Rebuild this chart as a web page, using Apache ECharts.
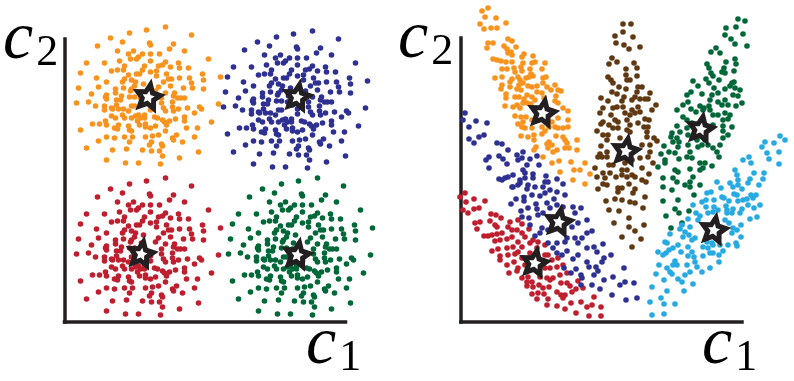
<!DOCTYPE html>
<html>
<head>
<meta charset="utf-8">
<style>
	html, body { margin: 0; padding: 0; background: #fff; }
	#main { width: 794px; height: 381px; }
</style>
<script src="https://cdn.jsdelivr.net/npm/echarts@6/dist/echarts.min.js"></script>
</head>
<body>
<div id="main"></div>
<script>
// values, axis units on both panels
const leftOrange = [[101,295],[82,292],[65,289],[127,287],[46,284],[58,280],[85,279],[86,277],[109,278],[105,273],[33,276],[120,271],[53,271],[69,271],[64,268],[78,268],[95,268],[86,268],[74,265],[72,263],[66,263],[86,261],[144,263],[22,259],[40,259],[55,261],[114,259],[115,254],[101,260],[98,257],[94,256],[106,255],[124,254],[80,256],[78,252],[60,256],[59,252],[53,252],[47,251],[92,251],[86,250],[138,248],[16,249],[102,248],[156,245],[64,247],[72,248],[75,248],[32,244],[92,246],[125,244],[139,242],[60,243],[58,240],[67,242],[71,240],[79,238],[42,240],[115,244],[107,243],[104,243],[99,240],[127,239],[128,234],[34,235],[14,234],[139,233],[119,234],[106,236],[51,233],[59,234],[70,236],[67,233],[66,231],[94,235],[91,231],[51,229],[27,228],[42,227],[41,225],[42,223],[57,226],[65,225],[70,225],[77,230],[76,224],[101,229],[110,229],[109,226],[113,224],[116,224],[120,224],[97,224],[12,219],[24,220],[52,222],[56,222],[31,216],[40,216],[47,214],[52,217],[40,212],[48,213],[54,213],[59,213],[67,216],[70,216],[64,211],[81,221],[86,217],[97,219],[99,214],[108,220],[108,215],[114,213],[123,214],[135,215],[137,213],[154,218],[109,211],[101,211],[86,212],[74,207],[80,207],[71,206],[67,204],[58,207],[60,204],[47,206],[51,204],[41,201],[42,197],[28,198],[35,198],[54,197],[50,194],[53,193],[64,196],[65,192],[67,191],[73,201],[76,204],[80,204],[75,197],[81,198],[81,195],[86,194],[91,196],[90,205],[93,204],[98,202],[100,200],[105,201],[102,197],[111,203],[120,205],[120,201],[130,209],[147,200],[122,194],[133,194],[101,191],[16,192],[42,185],[50,184],[60,185],[68,185],[65,180],[81,185],[88,186],[94,187],[108,184],[112,187],[109,182],[130,185],[118,180],[34,181],[87,180],[85,177],[97,178],[98,176],[22,174],[48,172],[62,173],[78,172],[87,171],[95,171],[98,166],[134,170],[115,164],[42,162],[61,159],[74,159],[96,158]];
const leftNavy = [[248,291],[229,288],[212,285],[274,283],[193,280],[205,276],[232,275],[233,273],[256,274],[252,269],[180,272],[267,267],[200,267],[216,267],[211,264],[225,264],[242,264],[233,264],[221,261],[219,259],[213,259],[233,257],[291,259],[169,255],[187,255],[202,257],[261,255],[262,250],[248,256],[245,253],[241,252],[253,251],[271,250],[227,252],[225,248],[207,252],[206,248],[200,248],[194,247],[239,247],[233,246],[285,244],[163,245],[249,244],[303,241],[211,243],[219,244],[222,244],[179,240],[239,242],[272,240],[286,238],[207,239],[205,236],[214,238],[218,236],[226,234],[189,236],[262,240],[254,239],[251,239],[246,236],[274,235],[275,230],[181,231],[161,230],[286,229],[266,230],[253,232],[198,229],[206,230],[217,232],[214,229],[213,227],[241,231],[238,227],[198,225],[174,224],[189,223],[188,221],[189,219],[204,222],[212,221],[217,221],[224,226],[223,220],[248,225],[257,225],[256,222],[260,220],[263,220],[267,220],[244,220],[159,215],[171,216],[199,218],[203,218],[178,212],[187,212],[194,210],[199,213],[187,208],[195,209],[201,209],[206,209],[214,212],[217,212],[211,207],[228,217],[233,213],[244,215],[246,210],[255,216],[255,211],[261,209],[270,210],[282,211],[284,209],[301,214],[256,207],[248,207],[233,208],[221,203],[227,203],[218,202],[214,200],[205,203],[207,200],[194,202],[198,200],[188,197],[189,193],[175,194],[182,194],[201,193],[197,190],[200,189],[211,192],[212,188],[214,187],[220,197],[223,200],[227,200],[222,193],[228,194],[228,191],[233,190],[238,192],[237,201],[240,200],[245,198],[247,196],[252,197],[249,193],[258,199],[267,201],[267,197],[277,205],[294,196],[269,190],[280,190],[248,187],[163,188],[189,181],[197,180],[207,181],[215,181],[212,176],[228,181],[235,182],[241,183],[255,180],[259,183],[256,178],[277,181],[265,176],[181,177],[234,176],[232,173],[244,174],[245,172],[169,170],[195,168],[209,169],[225,168],[234,167],[242,167],[245,162],[281,166],[262,160],[189,158],[208,155],[221,155],[243,154]];
const leftRed = [[101,144],[82,141],[65,138],[127,136],[46,133],[58,129],[85,128],[86,126],[109,127],[105,122],[33,125],[120,120],[53,120],[69,120],[64,117],[78,117],[95,117],[86,117],[74,114],[72,112],[66,112],[86,110],[144,112],[22,108],[40,108],[55,110],[114,108],[115,103],[101,109],[98,106],[94,105],[106,104],[124,103],[80,105],[78,101],[60,105],[59,101],[53,101],[47,100],[92,100],[86,99],[138,97],[16,98],[102,97],[156,94],[64,96],[72,97],[75,97],[32,93],[92,95],[125,93],[139,91],[60,92],[58,89],[67,91],[71,89],[79,87],[42,89],[115,93],[107,92],[104,92],[99,89],[127,88],[128,83],[34,84],[14,83],[139,82],[119,83],[106,85],[51,82],[59,83],[70,85],[67,82],[66,80],[94,84],[91,80],[51,78],[27,77],[42,76],[41,74],[42,72],[57,75],[65,74],[70,74],[77,79],[76,73],[101,78],[110,78],[109,75],[113,73],[116,73],[120,73],[97,73],[12,68],[24,69],[52,71],[56,71],[31,65],[40,65],[47,63],[52,66],[40,61],[48,62],[54,62],[59,62],[67,65],[70,65],[64,60],[81,70],[86,66],[97,68],[99,63],[108,69],[108,64],[114,62],[123,63],[135,64],[137,62],[154,67],[109,60],[101,60],[86,61],[74,56],[80,56],[71,55],[67,53],[58,56],[60,53],[47,55],[51,53],[41,50],[42,46],[28,47],[35,47],[54,46],[50,43],[53,42],[64,45],[65,41],[67,40],[73,50],[76,53],[80,53],[75,46],[81,47],[81,44],[86,43],[91,45],[90,54],[93,53],[98,51],[100,49],[105,50],[102,46],[111,52],[120,54],[120,50],[130,58],[147,49],[122,43],[133,43],[101,40],[16,41],[42,34],[50,33],[60,34],[68,34],[65,29],[81,34],[88,35],[94,36],[108,33],[112,36],[109,31],[130,34],[118,29],[34,30],[87,29],[85,26],[97,27],[98,25],[22,23],[48,21],[62,22],[78,21],[87,20],[95,20],[98,15],[134,19],[115,13],[42,11],[61,8],[74,8],[96,7]];
const leftGreen = [[253,144],[234,141],[217,138],[279,136],[198,133],[210,129],[237,128],[238,126],[261,127],[257,122],[185,125],[272,120],[205,120],[221,120],[216,117],[230,117],[247,117],[238,117],[226,114],[224,112],[218,112],[238,110],[296,112],[174,108],[192,108],[207,110],[266,108],[267,103],[253,109],[250,106],[246,105],[258,104],[276,103],[232,105],[230,101],[212,105],[211,101],[205,101],[199,100],[244,100],[238,99],[290,97],[168,98],[254,97],[308,94],[216,96],[224,97],[227,97],[184,93],[244,95],[277,93],[291,91],[212,92],[210,89],[219,91],[223,89],[231,87],[194,89],[267,93],[259,92],[256,92],[251,89],[279,88],[280,83],[186,84],[166,83],[291,82],[271,83],[258,85],[203,82],[211,83],[222,85],[219,82],[218,80],[246,84],[243,80],[203,78],[179,77],[194,76],[193,74],[194,72],[209,75],[217,74],[222,74],[229,79],[228,73],[253,78],[262,78],[261,75],[265,73],[268,73],[272,73],[249,73],[164,68],[176,69],[204,71],[208,71],[183,65],[192,65],[199,63],[204,66],[192,61],[200,62],[206,62],[211,62],[219,65],[222,65],[216,60],[233,70],[238,66],[249,68],[251,63],[260,69],[260,64],[266,62],[275,63],[287,64],[289,62],[306,67],[261,60],[253,60],[238,61],[226,56],[232,56],[223,55],[219,53],[210,56],[212,53],[199,55],[203,53],[193,50],[194,46],[180,47],[187,47],[206,46],[202,43],[205,42],[216,45],[217,41],[219,40],[225,50],[228,53],[232,53],[227,46],[233,47],[233,44],[238,43],[243,45],[242,54],[245,53],[250,51],[252,49],[257,50],[254,46],[263,52],[272,54],[272,50],[282,58],[299,49],[274,43],[285,43],[253,40],[168,41],[194,34],[202,33],[212,34],[220,34],[217,29],[233,34],[240,35],[246,36],[260,33],[264,36],[261,31],[282,34],[270,29],[186,30],[239,29],[237,26],[249,27],[250,25],[174,23],[200,21],[214,22],[230,21],[239,20],[247,20],[250,15],[286,19],[267,13],[194,11],[213,8],[226,8],[248,7]];
const leftCenters = [[84,226],[233,226],[77,69],[233,68]];

const rightOrange = [[27,314],[21,311],[24,305],[35,304],[19,298],[45,299],[23,293],[30,294],[36,294],[27,279],[32,279],[26,274],[47,283],[51,281],[43,276],[46,273],[55,275],[50,270],[47,269],[51,267],[32,263],[36,262],[40,261],[45,260],[51,260],[63,268],[61,265],[72,266],[74,260],[62,259],[60,255],[71,259],[84,259],[41,253],[46,253],[53,254],[54,250],[61,251],[69,253],[70,248],[81,253],[34,244],[41,245],[51,243],[49,240],[57,245],[59,242],[65,244],[68,245],[72,246],[82,244],[85,245],[41,237],[40,233],[49,235],[58,237],[62,239],[67,236],[71,235],[76,236],[82,239],[86,235],[94,237],[45,228],[45,224],[54,225],[56,233],[60,232],[66,227],[58,225],[63,223],[71,225],[76,230],[81,229],[90,232],[97,232],[100,231],[95,226],[44,216],[52,215],[56,217],[59,214],[62,219],[66,219],[70,218],[74,222],[83,224],[94,221],[97,219],[102,214],[107,211],[54,206],[60,205],[65,205],[62,200],[57,198],[61,195],[71,202],[64,194],[71,194],[89,207],[97,204],[91,200],[107,202],[107,195],[102,194],[81,195],[84,191],[88,195],[94,195],[97,194],[60,186],[67,185],[73,187],[81,188],[73,182],[75,175],[73,172],[95,186],[102,185],[104,182],[88,180],[91,177],[86,178],[106,179],[87,174],[92,170],[96,172],[104,174],[108,174],[116,182],[116,172],[82,165],[91,159],[98,161],[110,160],[124,159],[99,150],[113,152],[119,152],[129,148],[112,142],[124,138]];
const rightBrown = [[162,298],[170,298],[162,290],[154,286],[172,285],[155,279],[163,277],[168,273],[179,275],[151,264],[156,260],[148,258],[173,259],[176,254],[165,253],[165,247],[176,246],[166,242],[169,242],[147,245],[150,242],[152,239],[158,235],[165,233],[151,230],[156,228],[177,235],[181,235],[176,230],[189,229],[140,224],[147,221],[163,225],[161,221],[174,225],[171,222],[179,223],[184,223],[187,223],[195,217],[191,212],[142,214],[139,209],[152,214],[156,215],[162,215],[171,212],[169,207],[177,215],[179,210],[174,209],[150,207],[142,200],[140,198],[136,191],[154,202],[157,200],[164,209],[166,202],[169,197],[177,199],[184,203],[188,202],[148,197],[152,194],[157,194],[166,192],[183,195],[186,190],[187,195],[142,187],[147,187],[146,182],[159,184],[169,190],[186,185],[193,184],[196,181],[140,176],[189,177],[181,177],[146,170],[139,168],[137,165],[141,165],[146,165],[148,157],[152,157],[189,170],[187,165],[192,159],[179,164],[171,162],[164,159],[134,154],[142,149],[136,145],[149,149],[155,145],[161,152],[166,152],[161,147],[166,145],[171,147],[181,154],[174,145],[181,142],[185,140],[188,148],[144,144],[142,138],[168,138],[137,133],[157,134],[161,134],[174,133],[146,137],[157,130],[172,129],[184,125],[145,121],[154,123],[161,122],[169,120],[174,119],[182,114],[148,112],[158,111],[168,104],[153,99],[183,97],[168,95],[174,91],[161,85],[180,83],[171,75]];
const rightGreen = [[277,303],[284,301],[265,294],[275,295],[282,288],[264,287],[270,283],[274,278],[286,276],[255,274],[259,269],[250,270],[274,263],[275,258],[265,260],[246,258],[248,254],[263,254],[273,251],[250,249],[261,250],[264,249],[252,246],[245,243],[248,239],[258,242],[232,241],[271,239],[273,240],[237,236],[253,234],[269,236],[279,232],[230,230],[226,227],[241,228],[251,227],[257,229],[264,233],[274,234],[272,227],[277,226],[249,222],[257,220],[264,222],[267,217],[222,217],[227,220],[239,216],[243,214],[248,216],[261,217],[281,219],[275,216],[216,212],[230,213],[235,210],[249,212],[252,207],[257,207],[264,209],[269,207],[222,205],[226,202],[231,199],[262,202],[216,196],[242,212],[267,203],[262,196],[271,195],[211,189],[219,190],[226,194],[252,197],[210,185],[216,184],[227,187],[262,191],[267,187],[262,184],[212,180],[218,180],[236,182],[244,182],[203,176],[217,175],[227,177],[241,177],[247,177],[259,177],[208,170],[200,168],[214,169],[229,170],[237,175],[252,174],[256,170],[258,165],[204,162],[218,163],[226,165],[231,164],[239,159],[244,159],[251,156],[197,155],[204,159],[214,152],[217,150],[229,153],[239,152],[242,154],[212,144],[202,144],[216,140],[232,145],[229,140],[202,135],[224,137],[239,137],[211,132],[229,135],[202,121],[217,122],[214,113],[218,109],[228,111],[205,106],[221,99],[210,94],[233,127]];
const rightBlue = [[319,186],[324,182],[304,180],[313,179],[301,175],[318,170],[306,169],[308,163],[318,158],[282,162],[288,165],[290,159],[274,152],[293,149],[303,149],[276,147],[277,142],[302,143],[289,143],[287,139],[269,139],[298,137],[256,140],[272,135],[260,134],[277,137],[281,133],[250,130],[246,129],[273,128],[276,127],[261,125],[263,124],[253,122],[245,122],[241,120],[290,127],[295,127],[292,124],[286,123],[282,122],[277,121],[268,121],[232,117],[245,115],[253,115],[257,112],[265,116],[266,112],[272,113],[281,113],[287,117],[293,114],[299,117],[252,110],[247,109],[235,109],[239,106],[266,109],[271,109],[279,109],[227,103],[289,103],[296,105],[237,102],[264,102],[268,99],[280,97],[221,97],[229,95],[272,94],[276,92],[219,93],[209,88],[224,90],[222,85],[228,87],[271,89],[280,85],[231,82],[234,84],[204,80],[206,79],[217,77],[212,74],[246,80],[251,79],[242,75],[247,74],[252,77],[227,75],[275,79],[267,77],[276,76],[259,77],[262,71],[197,70],[205,69],[202,67],[208,72],[220,70],[231,70],[227,66],[233,65],[242,66],[249,69],[258,67],[252,69],[258,60],[214,61],[216,57],[212,57],[198,57],[226,57],[234,60],[236,55],[249,54],[241,50],[206,54],[209,50],[211,48],[229,50],[224,47],[195,48],[217,43],[221,40],[203,42],[232,38],[191,35],[206,31],[223,31],[189,20],[200,24],[203,18],[214,18],[191,7],[203,8]];
const rightRed = [[4,129],[-1,125],[5,120],[13,123],[24,121],[2,112],[7,109],[13,113],[18,114],[30,108],[35,107],[40,104],[14,99],[19,100],[16,93],[29,101],[34,97],[36,95],[49,100],[57,102],[47,95],[61,98],[68,93],[41,89],[23,86],[27,86],[31,87],[36,88],[51,92],[56,92],[61,89],[34,81],[39,82],[46,83],[51,85],[57,80],[64,85],[72,82],[77,80],[84,77],[31,71],[37,73],[46,74],[52,75],[61,75],[69,79],[76,74],[87,67],[39,66],[47,67],[54,68],[57,70],[69,69],[39,62],[53,60],[61,64],[84,67],[91,62],[97,64],[46,57],[57,54],[64,57],[48,49],[56,51],[84,54],[89,54],[96,55],[102,57],[61,44],[67,45],[79,45],[86,44],[92,44],[99,47],[106,49],[66,40],[71,40],[89,42],[117,41],[66,36],[72,35],[78,37],[100,39],[106,39],[88,35],[109,36],[82,34],[96,30],[104,27],[115,33],[122,34],[111,30],[71,28],[77,29],[83,28],[100,27],[76,23],[87,23],[102,24],[133,25],[86,17],[120,20],[96,16],[110,19],[104,13],[126,15],[131,17],[140,15],[115,9],[128,6],[140,6]];
const rightNavy = [[4,209],[2,202],[15,201],[26,199],[8,195],[23,187],[18,185],[8,183],[13,179],[36,179],[41,178],[47,172],[28,165],[25,162],[38,166],[42,163],[46,158],[28,154],[56,167],[62,170],[76,166],[69,163],[57,162],[61,164],[78,157],[66,157],[62,152],[64,149],[72,148],[38,143],[44,144],[52,147],[47,145],[59,142],[64,144],[72,144],[85,146],[96,143],[84,140],[102,138],[51,135],[57,137],[74,135],[82,135],[87,140],[41,142],[52,135],[59,139],[67,137],[66,133],[71,127],[79,126],[84,129],[89,132],[96,130],[104,127],[55,123],[63,125],[63,121],[93,123],[50,118],[75,118],[86,119],[67,114],[60,111],[76,113],[96,117],[102,115],[112,115],[120,114],[61,105],[68,104],[77,107],[82,109],[89,114],[114,109],[126,102],[69,97],[117,99],[111,95],[81,94],[87,92],[74,86],[79,89],[131,91],[126,89],[106,84],[114,84],[121,84],[87,79],[96,79],[104,80],[117,79],[126,74],[133,75],[142,78],[92,74],[96,69],[101,67],[106,71],[136,70],[150,67],[143,64],[112,63],[117,67],[141,60],[126,60],[128,55],[103,54],[115,53],[110,49],[135,55],[137,51],[133,47],[163,54],[120,47],[121,44],[143,42],[152,45],[164,40],[159,37],[173,39],[131,37],[139,33],[120,37],[151,27],[165,22],[176,24]];
const rightCenters = [[82,210],[165,172],[240,194],[253,93],[98,101],[74,60]];

const STAR = "path://M50 0L65 33L100 38L75 62L81 97L50 80L19 97L25 62L0 38L35 33Z";

const chart = echarts.init(document.getElementById("main"), null, { renderer: "canvas" });

function dots(data, color, axisIndex) {
	return {
		type: "scatter",
		data: data,
		xAxisIndex: axisIndex,
		yAxisIndex: axisIndex,
		symbolSize: 5.6,
		clip: false,
		silent: true,
		itemStyle: { color: color, opacity: 1 },
	};
}

function stars(data, axisIndex) {
	return {
		type: "scatter",
		data: data,
		xAxisIndex: axisIndex,
		yAxisIndex: axisIndex,
		symbol: STAR,
		symbolSize: 23,
		symbolRotate: -10,
		clip: false,
		silent: true,
		z: 5,
		itemStyle: { color: "#fff", borderColor: "#231f20", borderWidth: 5, opacity: 1 },
	};
}

function axis(max) {
	return {
		type: "value",
		min: 0,
		max: max,
		axisLine: { show: true, onZero: false, lineStyle: { color: "#231f20", width: 3.5, cap: "square" } },
		axisTick: { show: false },
		axisLabel: { show: false },
		splitLine: { show: false },
	};
}

function label(sub, left, top) {
	return {
		text: `{c|c}{s|${sub}}`,
		left: left,
		top: top,
		padding: 0,
		textStyle: {
			rich: {
				c: { fontFamily: "Liberation Serif", fontStyle: "italic", fontWeight: "normal", fontSize: 68, color: "#000" },
				s: { fontFamily: "Liberation Serif", fontWeight: "normal", fontSize: 44, color: "#000", padding: [26, 0, 0, 3] },
			},
		},
	};
}

chart.setOption({
	animation: false,
	backgroundColor: "#fff",
	title: [label("2", 3, 5), label("1", 306, 310), label("2", 398, 4), label("1", 702, 310)],
	grid: [
		{ left: 64.5, top: 39, width: 281, height: 283 },
		{ left: 461, top: 38, width: 281, height: 284 },
	],
	xAxis: [Object.assign(axis(281), { gridIndex: 0 }), Object.assign(axis(281), { gridIndex: 1 })],
	yAxis: [Object.assign(axis(283), { gridIndex: 0 }), Object.assign(axis(284), { gridIndex: 1 })],
	series: [
		dots(leftOrange, "#f7931e", 0),
		dots(leftNavy, "#2e3192", 0),
		dots(leftRed, "#be1e2d", 0),
		dots(leftGreen, "#006838", 0),
		stars(leftCenters, 0),
		dots(rightOrange, "#f7931e", 1),
		dots(rightBrown, "#603913", 1),
		dots(rightGreen, "#006838", 1),
		dots(rightBlue, "#27aae1", 1),
		dots(rightRed, "#be1e2d", 1),
		dots(rightNavy, "#2e3192", 1),
		stars(rightCenters, 1),
	],
});
</script>
</body>
</html>
